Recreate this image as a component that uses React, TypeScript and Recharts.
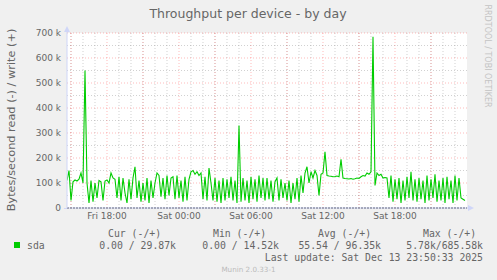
import { LineChart, Line, XAxis, YAxis, CartesianGrid, ReferenceLine } from 'recharts'

// time is minutes relative to Sat 00:00, one sample every 10 minutes
const startMinute = -560
const stepMinutes = 10

// write throughput, k bytes/s
const writeK = [
  110, 150, 30, 105, 112, 108, 115, 140, 100, 550,
  100, 20, 110, 25, 100, 40, 110, 105, 30, 108,
  112, 100, 140, 120, 115, 40, 125, 30, 120, 60,
  20, 115, 35, 120, 165, 40, 110, 25, 100, 30,
  120, 20, 110, 40, 100, 140, 130, 45, 120, 35,
  130, 50, 120, 125, 35, 130, 40, 110, 25, 125,
  30, 115, 145, 150, 135, 145, 130, 140, 35, 125,
  30, 160, 100, 30, 120, 25, 110, 20, 120, 30,
  115, 40, 125, 30, 110, 20, 330, 25, 120, 30,
  110, 20, 125, 35, 115, 25, 130, 40, 120, 30,
  120, 35, 110, 25, 105, 120, 30, 115, 40, 100,
  30, 110, 20, 100, 35, 120, 25, 130, 60, 140,
  165, 100, 145, 120, 150, 130, 50, 135, 140, 225,
  130, 128, 127, 125, 126, 128, 125, 195, 120, 118,
  117, 116, 118, 115, 117, 120, 118, 125, 130, 128,
  140, 135, 145, 685, 90, 140, 130, 135, 120, 122,
  120, 40, 130, 25, 115, 35, 120, 20, 110, 30,
  125, 40, 145, 30, 115, 25, 120, 35, 110, 20,
  130, 30, 115, 40, 135, 25, 110, 30, 120, 20,
  125, 35, 110, 20, 130, 30, 120, 40, 35, 30,
]

const xTicks = [-360, 0, 360, 720, 1080]
const xTickLabels = ['Fri 18:00', 'Sat 00:00', 'Sat 06:00', 'Sat 12:00', 'Sat 18:00']
const xMajorGrid = [-540, -360, -180, 0, 180, 360, 540, 720, 900, 1080, 1260]
const xMinorGrid = [
  -540, -480, -420, -360, -300, -240, -180, -120, -60, 0, 60, 120, 180, 240, 300, 360,
  420, 480, 540, 600, 660, 720, 780, 840, 900, 960, 1020, 1080, 1140, 1200, 1260, 1320, 1380,
]
const yTicks = [0, 100000, 200000, 300000, 400000, 500000, 600000, 700000]
const yMinorGrid = [50000, 150000, 250000, 350000, 450000, 550000, 650000]

const legendHeads = ['Cur (-/+)', 'Min (-/+)', 'Avg (-/+)', 'Max (-/+)']
const legendValues = ['0.00 / 29.87k', '0.00 / 14.52k', '55.54 / 96.35k', '5.78k/685.58k']

const data = writeK.map((v, i) => ({ t: startMinute + i * stepMinutes, write: v * 1000 }))

const font = '"DejaVu Sans", sans-serif'
const mono = '"DejaVu Sans Mono", monospace'

export default function App() {
  return (
    <div style={{ position: 'relative', width: 497, height: 280, background: '#f0f0f0' }}>
      <style>{'body{margin:0}'}</style>
      <LineChart width={497} height={280} data={data} margin={{ top: 33, right: 30, left: 0, bottom: 52 }}>
        <CartesianGrid
          horizontalValues={yMinorGrid}
          verticalValues={xMinorGrid}
          stroke="#8c8c8c"
          strokeOpacity={0.4}
          strokeDasharray="1 2"
          fill="#ffffff"
        />
        <CartesianGrid
          horizontalValues={yTicks.slice(1)}
          verticalValues={xMajorGrid}
          stroke="#ff0000"
          strokeOpacity={0.27}
          strokeDasharray="1 2"
        />
        <XAxis
          dataKey="t"
          type="number"
          domain={[-560, 1440]}
          ticks={xTicks}
          tickFormatter={(v: number) => xTickLabels[xTicks.indexOf(v)]}
          height={20}
          axisLine={{ stroke: '#cfd6f8' }}
          tickLine={false}
          tickSize={0}
          tickMargin={5}
          tick={{ fontSize: 9, fill: '#666666', fontFamily: font }}
          allowDataOverflow
        />
        <YAxis
          type="number"
          domain={[0, 700000]}
          ticks={yTicks}
          tickFormatter={(v: number) => (v === 0 ? '0' : `${v / 1000} k`)}
          width={67}
          axisLine={{ stroke: '#cfd6f8' }}
          tickLine={false}
          tickSize={0}
          tickMargin={6}
          tick={{ fontSize: 9, fill: '#666666', fontFamily: font }}
          allowDataOverflow
        />
        <ReferenceLine y={0} stroke="#000000" strokeDasharray="2 1" />
        <Line
          dataKey="write"
          type="linear"
          stroke="#00cc00"
          strokeWidth={1.1}
          dot={false}
          isAnimationActive={false}
        />
      </LineChart>
      <svg
        width={497}
        height={280}
        style={{ position: 'absolute', left: 0, top: 0, pointerEvents: 'none' }}
      >
        <text x={248} y={18} textAnchor="middle" fontFamily={font} fontSize={12.5} fill="#666666">
          Throughput per device - by day
        </text>
        <text
          x={14.5}
          y={120}
          textAnchor="middle"
          fontFamily={font}
          fontSize={11.3}
          fill="#666666"
          transform="rotate(-90 14.5 120)"
        >
          Bytes/second read (-) / write (+)
        </text>
        <text
          x={485}
          y={56}
          textAnchor="middle"
          fontFamily={font}
          fontSize={8}
          fill="#c4c4c4"
          transform="rotate(90 485 56)"
        >
          RRDTOOL / TOBI OETIKER
        </text>
        <polygon points="64,32 70,32 67,26" fill="#cfd6f8" />
        <line x1={67} y1={32} x2={67} y2={33} stroke="#cfd6f8" />
        <line x1={64} y1={208.5} x2={67} y2={208.5} stroke="#cfd6f8" />
        <line x1={467} y1={208} x2={469} y2={208} stroke="#cfd6f8" />
        <polygon points="468,205 468,211 474,208" fill="#cfd6f8" />

        {legendHeads.map((h, i) => (
          <text key={h} x={[108, 213, 318, 423][i]} y={237} fontFamily={mono} fontSize={9.8} fill="#666666">
            {h}
          </text>
        ))}
        <rect x={14} y={242} width={6} height={6} fill="#00cc00" />
        <text x={27} y={249} fontFamily={mono} fontSize={9.8} fill="#666666">sda</text>
        {legendValues.map((v, i) => (
          <text key={v} x={[176, 279, 381, 483][i]} y={249} textAnchor="end" fontFamily={mono} fontSize={9.8} fill="#666666">
            {v}
          </text>
        ))}
        <text x={483} y={261} textAnchor="end" fontFamily={mono} fontSize={9.8} fill="#666666">
          Last update: Sat Dec 13 23:50:33 2025
        </text>
        <text x={248.5} y={272} textAnchor="middle" fontFamily={font} fontSize={7.2} fill="#bbbbbb">
          Munin 2.0.33-1
        </text>
      </svg>
    </div>
  )
}
